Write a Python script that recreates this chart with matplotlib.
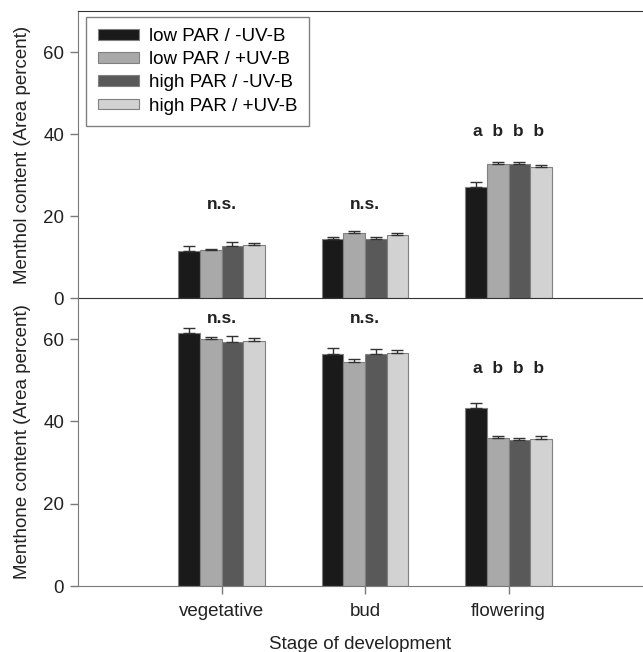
import matplotlib
matplotlib.use('Agg')
import matplotlib.pyplot as plt
import numpy as np

plt.rcParams['font.family'] = ['Liberation Sans', 'DejaVu Sans']

stages = ['vegetative', 'bud', 'flowering']
treatments = ['low PAR / -UV-B', 'low PAR / +UV-B', 'high PAR / -UV-B', 'high PAR / +UV-B']
colors = ['#1a1a1a', '#a9a9a9', '#595959', '#d2d2d2']

# menthol (top), one list per treatment: vegetative, bud, flowering
menthol = [[11.5, 14.5, 27.0],
           [11.6, 15.9, 32.6],
           [12.8, 14.5, 32.8],
           [12.9, 15.3, 31.9]]
menthol_err = [[1.2, 0.3, 1.3],
               [0.3, 0.5, 0.5],
               [0.8, 0.3, 0.3],
               [0.4, 0.5, 0.6]]
menthol_sig = ['n.s.', 'n.s.', 'a  b  b  b']

menthone = [[61.5, 56.5, 43.2],
            [60.1, 54.4, 35.9],
            [59.4, 56.5, 35.5],
            [59.5, 56.6, 35.7]]
menthone_err = [[1.2, 1.4, 1.3],
                [0.4, 0.8, 0.6],
                [1.3, 1.0, 0.4],
                [0.7, 0.7, 0.7]]
menthone_sig = ['n.s.', 'n.s.', 'a  b  b  b']

fig = plt.figure(figsize=(6.43, 6.52), dpi=100)
ax1 = fig.add_axes([0.1213, 0.5429, 0.8787, 0.4402])
ax2 = fig.add_axes([0.1213, 0.1012, 0.8787, 0.4417])
ax2.patch.set_visible(False)

x = np.arange(1, len(stages) + 1)
w = 0.15
spine_col = '#7a7a7a'
txt_col = '#222222'
fs = 13.5


def draw(ax, vals, errs, sig, sig_y):
    for i in range(len(treatments)):
        pos = x + (i - 1.5) * w
        ax.bar(pos, vals[i], w, color=colors[i], edgecolor='#808080',
               linewidth=0.8, label=treatments[i], zorder=2)
        ax.errorbar(pos, vals[i], yerr=[np.zeros(3), errs[i]], fmt='none',
                    ecolor='#333333', elinewidth=1, capsize=4, capthick=1, zorder=3)
    for j in range(len(stages)):
        ax.text(x[j], sig_y[j], sig[j], ha='center', va='center',
                fontsize=12.5, fontweight='bold', color=txt_col)
    ax.set_xlim(0, 3.937)
    ax.set_ylim(0, 70)
    ax.set_yticks([0, 20, 40, 60])
    ax.tick_params(axis='y', direction='out', length=6, width=1, color=spine_col,
                   labelsize=fs, labelcolor=txt_col, pad=4)
    ax.spines['right'].set_visible(False)
    ax.spines['left'].set_color(spine_col)
    ax.spines['bottom'].set_color(spine_col)


draw(ax1, menthol, menthol_err, menthol_sig, [22.7, 22.7, 40.5])
draw(ax2, menthone, menthone_err, menthone_sig, [65.1, 65.1, 52.8])

ax1.spines['top'].set_color('#333333')
ax1.spines['bottom'].set_color('#333333')
ax1.spines['bottom'].set_zorder(5)
ax1.set_xticks([])
ax2.spines['top'].set_visible(False)
ax2.set_xticks(x)
ax2.set_xticklabels(stages)
ax2.tick_params(axis='x', direction='out', length=6, width=1, color=spine_col,
                labelsize=fs, labelcolor=txt_col, pad=6)

ax1.set_ylabel('Menthol content (Area percent)', fontsize=fs, color=txt_col, labelpad=9)
ax2.set_ylabel('Menthone content (Area percent)', fontsize=fs, color=txt_col, labelpad=9)
ax2.set_xlabel('Stage of development', fontsize=fs, color=txt_col, labelpad=12)

leg = ax1.legend(loc='upper left', bbox_to_anchor=(0.015, 0.98), fontsize=fs,
                 frameon=True, fancybox=False, edgecolor='#808080', framealpha=1,
                 handlelength=2.2, handleheight=0.5, labelspacing=0.33,
                 borderpad=0.6, handletextpad=0.55, borderaxespad=0)
leg.get_frame().set_linewidth(1)

fig.savefig('out.png', dpi=100)
